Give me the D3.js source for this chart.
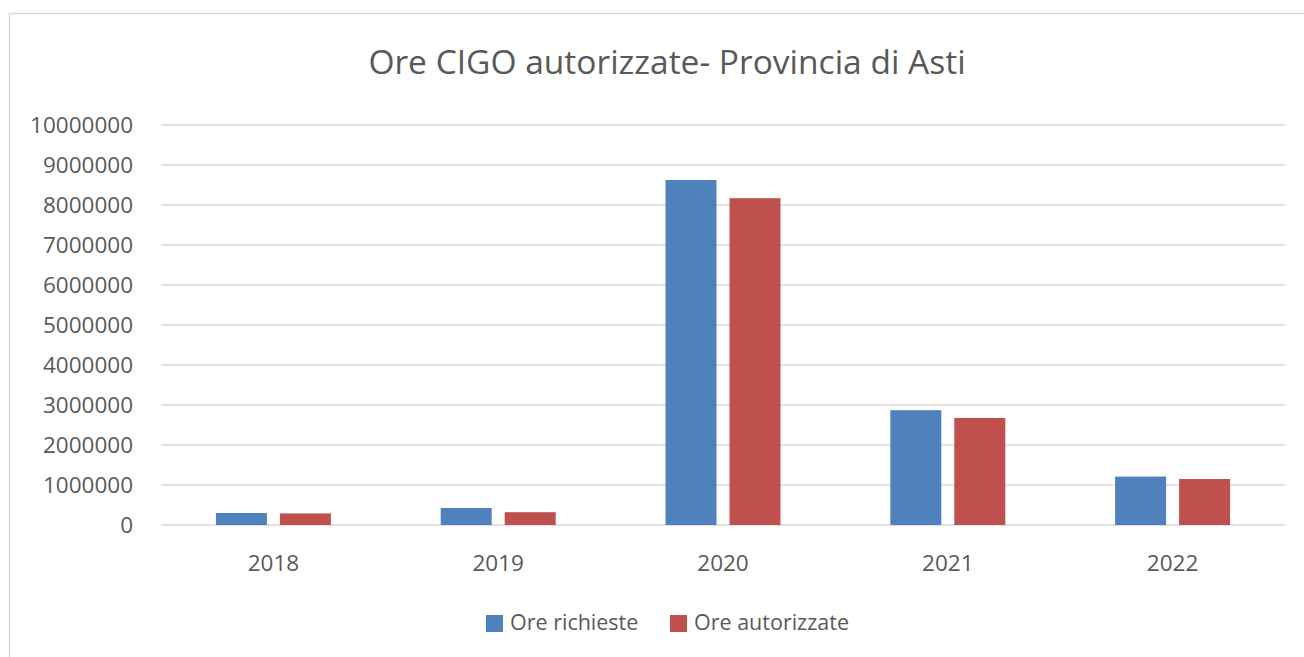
<!DOCTYPE html>
<html>
<head>
<meta charset="utf-8">
<script src="https://cdn.jsdelivr.net/npm/d3@7"></script>
<style>
  body { margin: 0; background: #fff; }
  svg { display: block; font-family: "Open Sans", sans-serif; }
</style>
</head>
<body>
<svg id="chart" width="1304" height="657"></svg>
<script>
let years = ["2018", "2019", "2020", "2021", "2022"]
let oreRichieste = [300000, 425000, 8625000, 2870000, 1210000]
let oreAutorizzate = [290000, 320000, 8170000, 2675000, 1150000]
let seriesNames = ["Ore richieste", "Ore autorizzate"]
let seriesColors = ["#4f81bd", "#c0504d"]
let yTicks = [0, 1000000, 2000000, 3000000, 4000000, 5000000, 6000000, 7000000, 8000000, 9000000, 10000000]

let svg = d3.select("#chart")
let textColor = "#595959"

// chart frame
svg.append("rect")
    .attr("x", 9.5).attr("y", 13.5)
    .attr("width", 1310).attr("height", 660)
    .attr("fill", "#fff").attr("stroke", "#d9d9d9").attr("stroke-width", 1.5)

svg.append("text")
    .attr("x", 667).attr("y", 74)
    .attr("text-anchor", "middle")
    .attr("font-size", 33.5)
    .attr("fill", textColor)
    .text("Ore CIGO autorizzate- Provincia di Asti")

let margin = {left: 161, right: 1285, top: 125, bottom: 525}

let x = d3.scaleBand(years, [margin.left, margin.right])
let xInner = d3.scaleBand([0, 1], [0, 115]).paddingInner(0.203)
let y = d3.scaleLinear([0, 10000000], [margin.bottom, margin.top])

// gridlines
svg.append("g")
    .selectAll("line")
    .data(yTicks)
    .enter()
    .append("line")
    .attr("x1", margin.left).attr("x2", margin.right)
    .attr("y1", d => y(d)).attr("y2", d => y(d))
    .attr("stroke", "#d9d9d9").attr("stroke-width", 1.5)

let yAxis = svg.append("g")
    .attr("transform", `translate(${margin.left - 28},0)`)
    .call(d3.axisLeft(y).tickValues(yTicks).tickFormat(d3.format("d")).tickSize(0).tickPadding(0))
yAxis.select(".domain").remove()
yAxis.selectAll("text").attr("font-size", 22.5).attr("fill", textColor).attr("font-family", "Open Sans")

let xAxis = svg.append("g")
    .attr("transform", `translate(0,${margin.bottom})`)
    .call(d3.axisBottom(x).tickSize(0).tickPadding(30))
xAxis.select(".domain").remove()
xAxis.selectAll("text").attr("font-size", 22.5).attr("fill", textColor).attr("font-family", "Open Sans")

let rows = years.map((yr, i) => ({year: yr, values: [oreRichieste[i], oreAutorizzate[i]]}))

let groups = svg.append("g")
    .selectAll("g")
    .data(rows)
    .enter()
    .append("g")
    .attr("transform", d => `translate(${x(d.year) + x.bandwidth() / 2 - 57.5},0)`)

groups.selectAll("rect")
    .data(d => d.values.map((v, k) => ({k: k, v: v})))
    .enter()
    .append("rect")
    .attr("x", d => xInner(d.k))
    .attr("width", xInner.bandwidth())
    .attr("y", d => y(d.v))
    .attr("height", d => y(0) - y(d.v))
    .attr("fill", d => seriesColors[d.k])

// legend
let legendX = [486, 670]
let legend = svg.append("g")
    .selectAll("g")
    .data(seriesNames)
    .enter()
    .append("g")
    .attr("transform", (d, i) => `translate(${legendX[i]},615)`)

legend.append("rect")
    .attr("width", 17).attr("height", 17)
    .attr("fill", (d, i) => seriesColors[i])

legend.append("text")
    .attr("x", 24).attr("y", 14.5)
    .attr("font-size", 21.5)
    .attr("fill", textColor)
    .text(d => d)
</script>
</body>
</html>
